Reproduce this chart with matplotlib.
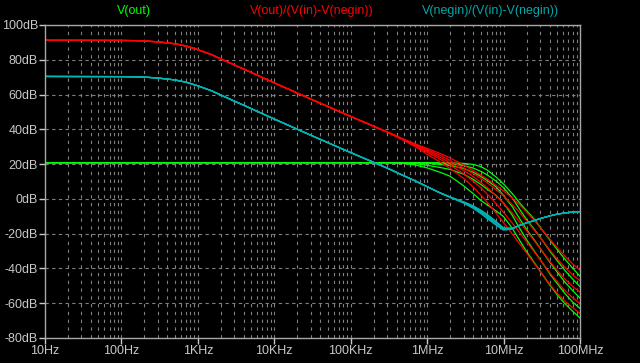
import numpy as np
import matplotlib
matplotlib.use("Agg")
import matplotlib.pyplot as plt

# frequency grid (Hz): low part shared by every step, high part per step
freq_lf = [10, 100, 150, 200, 300, 500, 700, 1e3, 1.5e3, 2e3, 3e3, 4e3, 6e3, 1e4, 3e4, 1e5]
freq_hf = [3e5, 5e5, 7e5, 1e6, 1.5e6, 2e6, 3e6, 4e6, 5e6, 6e6, 8e6, 1e7,
           1.3e7, 1.6e7, 2e7, 2.5e7, 3.2e7, 4e7, 5e7, 6.3e7, 8e7, 1e8]

# V(out)/(V(in)-V(negin))  [dB]
red_lf = [91.2, 91.1, 91.0, 90.8, 90.3, 89.2, 87.9, 85.8, 83.0, 80.5, 77.0, 74.6, 71.1, 66.7, 57.4, 47.4]
red_hf = [
    [38.3, 33.5, 30.0, 25.6, 21.0, 17.5, 11.8, 6.8, 2.3, -1.6, -8.3, -13.7,
     -20.2, -25.5, -31.2, -36.9, -43.3, -49.0, -54.2, -58.8, -62.6, -65.8],
    [38.4, 33.8, 30.6, 26.8, 22.6, 19.4, 14.4, 10.2, 6.5, 3.1, -2.8, -7.8,
     -14.0, -19.1, -24.6, -30.3, -36.6, -42.4, -47.6, -52.6, -56.9, -60.2],
    [38.5, 34.0, 31.0, 27.6, 23.8, 20.8, 16.3, 12.8, 9.6, 6.8, 1.8, -2.6,
     -8.2, -13.0, -18.3, -23.9, -30.1, -35.8, -41.0, -46.0, -50.3, -53.6],
    [38.5, 34.1, 31.3, 28.3, 24.9, 22.0, 17.8, 14.6, 11.9, 9.5, 5.3, 1.6,
     -3.4, -7.6, -12.6, -17.8, -23.7, -29.3, -34.4, -39.3, -43.7, -47.0],
    [38.5, 34.2, 31.6, 29.0, 26.0, 23.5, 19.5, 16.3, 13.8, 11.6, 7.8, 4.5,
     0.4, -3.2, -7.5, -12.2, -17.8, -23.0, -28.0, -32.8, -37.4, -41.0],
]

# V(out)  [dB]
green_lf = [20.8] * len(freq_lf)
green_hf = [
    [20.8, 20.4, 19.5, 17.8, 15.2, 13.0, 7.5, 3.0, -0.8, -3.2, -7.0, -10.2,
     -17.0, -23.5, -30.3, -36.4, -43.3, -49.5, -55.0, -60.2, -64.6, -68.5],
    [20.8, 20.7, 20.3, 19.3, 18.0, 16.9, 14.2, 11.2, 8.4, 5.8, 2.0, -2.5,
     -9.5, -16.5, -23.5, -29.8, -36.6, -42.9, -48.6, -54.3, -59.3, -63.0],
    [20.8, 20.8, 20.7, 20.4, 19.8, 19.2, 17.5, 15.3, 13.0, 10.8, 6.8, 2.0,
     -4.5, -11.0, -17.6, -23.4, -30.1, -36.3, -42.0, -47.7, -52.7, -57.1],
    [20.8, 20.8, 20.8, 20.7, 20.5, 20.2, 19.2, 17.7, 15.9, 14.0, 10.2, 6.3,
     0.5, -5.6, -11.9, -17.3, -23.7, -29.8, -35.4, -41.0, -46.1, -50.5],
    [20.8, 20.8, 20.8, 20.8, 20.8, 20.7, 20.4, 19.8, 18.6, 16.8, 12.5, 8.5,
     3.0, -2.0, -6.8, -11.5, -17.8, -23.5, -29.0, -34.5, -39.8, -44.5],
]

# V(negin)/(V(in)-V(negin))  [dB]
cyan_lf = [70.4, 70.3, 70.2, 70.0, 69.5, 68.4, 67.1, 65.0, 62.2, 59.7, 56.2, 53.8, 50.3, 45.9, 36.6, 26.6]
cyan_hf = [
    [17.7, 13.2, 10.3, 7.0, 3.3, 0.9, -2.4, -5.4, -8.4, -11.1, -15.2, -18.0,
     -17.3, -15.4, -13.8, -12.5, -11.0, -9.8, -8.8, -8.1, -7.6, -7.3],
    [17.7, 13.2, 10.3, 7.0, 3.3, 1.0, -2.2, -5.0, -7.9, -10.4, -14.6, -17.6,
     -17.1, -15.3, -13.8, -12.5, -11.0, -9.8, -8.8, -8.1, -7.6, -7.3],
    [17.7, 13.2, 10.3, 7.0, 3.3, 1.0, -2.0, -4.6, -7.2, -9.6, -13.8, -17.2,
     -17.0, -15.3, -13.8, -12.5, -11.0, -9.8, -8.8, -8.1, -7.6, -7.3],
    [17.7, 13.2, 10.3, 7.0, 3.3, 1.0, -1.8, -4.2, -6.7, -9.0, -13.3, -16.9,
     -16.9, -15.3, -13.8, -12.5, -11.0, -9.8, -8.8, -8.1, -7.6, -7.3],
    [17.7, 13.2, 10.3, 7.0, 3.3, 1.1, -1.7, -4.0, -6.4, -8.7, -13.0, -16.8,
     -16.9, -15.3, -13.8, -12.5, -11.0, -9.8, -8.8, -8.1, -7.6, -7.3],
]

y_ticks = [-80, -60, -40, -20, 0, 20, 40, 60, 80, 100]
y_tick_labels = ["-80dB", "-60dB", "-40dB", "-20dB", "0dB", "20dB", "40dB", "60dB", "80dB", "100dB"]
x_ticks = [1e1, 1e2, 1e3, 1e4, 1e5, 1e6, 1e7, 1e8]
x_tick_labels = ["10Hz", "100Hz", "1KHz", "10KHz", "100KHz", "1MHz", "10MHz", "100MHz"]

GREEN = "#00ff00"
RED = "#ff0000"
CYAN = "#00b4b4"
TXT = "#c8c8c8"
GRID = "#808080"

plt.rcParams["font.family"] = ["Liberation Sans", "DejaVu Sans"]

fig = plt.figure(figsize=(6.4, 3.63), dpi=100, facecolor="black")
ax = fig.add_axes([0.0703, 0.0689, 0.836, 0.8623], facecolor="black")
ax.set_xscale("log")

f_all = np.array(freq_lf + freq_hf)
for g in green_hf:
    ax.plot(f_all, green_lf + g, color=GREEN, lw=0.9)
for r in red_hf:
    ax.plot(f_all, red_lf + r, color=RED, lw=0.9)
for c in cyan_hf:
    ax.plot(f_all, cyan_lf + c, color=CYAN, lw=0.9)

ax.set_xlim(10, 1e8)
ax.set_ylim(-80, 100)

# LTspice style dashed grid, decades plus 2..9 minor lines
for d in range(1, 8):
    for m in range(1, 10):
        if d == 1 and m == 1:
            continue
        ax.axvline(m * 10 ** d, color=GRID, lw=0.8, ls=(0, (3, 4)), zorder=0)
for yv in y_ticks[1:-1]:
    ax.axhline(yv, color=GRID, lw=0.8, ls=(0, (3, 3)), zorder=0)

ax.set_yticks(y_ticks)
ax.set_yticklabels(y_tick_labels)
ax.set_xticks(x_ticks)
ax.set_xticklabels(x_tick_labels)
ax.minorticks_off()
ax.tick_params(colors=TXT, labelsize=9, length=4, width=1, pad=1)
for s in ax.spines.values():
    s.set_color("#a8a8a8")
    s.set_linewidth(1.0)

fig.text(134 / 640, 0.970, "V(out)", color=GREEN, fontsize=9, ha="center", va="center")
fig.text(312 / 640, 0.970, "V(out)/(V(in)-V(negin))", color=RED, fontsize=9, ha="center", va="center")
fig.text(490 / 640, 0.970, "V(negin)/(V(in)-V(negin))", color="#00a8a8", fontsize=9, ha="center", va="center")

fig.savefig("out.png", dpi=100, facecolor="black")
